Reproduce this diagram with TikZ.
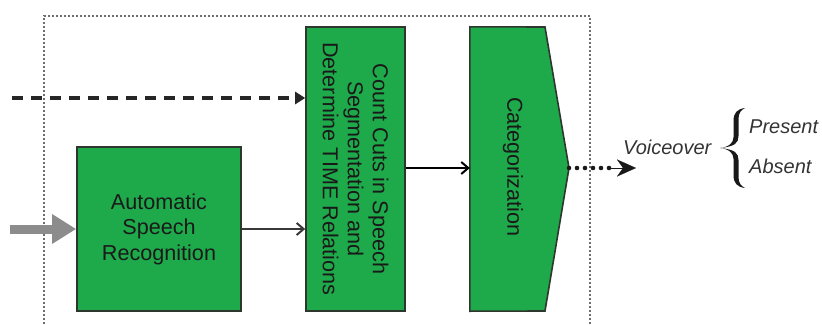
\documentclass[tikz,border=0pt]{standalone}
\usepackage{fontspec}
\setmainfont{Liberation Sans}
\usetikzlibrary{arrows.meta}
\definecolor{boxgreen}{RGB}{30,170,75}
\definecolor{boxedge}{RGB}{45,55,45}
\definecolor{framegray}{RGB}{110,110,110}
\definecolor{feedgray}{RGB}{140,140,140}
\begin{document}
\begin{tikzpicture}[x=1pt,y=-1pt,
  procbox/.style={draw=boxedge,line width=1.6pt,fill=boxgreen,inner sep=0pt,
    align=center,font=\fontsize{21.6}{25.5}\selectfont,text=black!90},
  boxtext/.style={rotate=-90,align=center,font=\fontsize{21.6}{25}\selectfont,text=black!90},
  flow/.style={line width=2.7pt,draw=black!78,-{Straight Barb[length=7pt,width=12pt,line width=2pt]}},
  label/.style={font=\fontsize{20}{24}\selectfont\itshape,text=black!80,inner sep=0pt}]
\useasboundingbox (0,0) rectangle (822,324);
\begin{scope}
\clip (0,0) rectangle (822,324);
% dotted system frame (its lower edge falls outside the page)
\draw[framegray,line width=1.8pt,dash pattern=on 1.8pt off 2.2pt] (44,340) -- (44,16) -- (590,16) -- (590,340);
\end{scope}

% processing blocks
\node[procbox,minimum width=164pt,minimum height=164pt] (asr) at (159,229)
  {Automatic\\Speech\\Recognition};
\node[procbox,minimum width=99pt,minimum height=284pt] (count) at (355.5,169) {};
\node[boxtext] (counttxt) at (count.center)
  {Count Cuts in Speech\\Segmentation and\\Determine TIME Relations};

% categorization block with pointed right side
\node[minimum width=75pt,minimum height=284pt,inner sep=0pt] (cat) at (507.5,169) {};
\coordinate (tip) at (569,168);
\draw[boxedge,line width=1.6pt,fill=boxgreen]
  (cat.north west) -- (545,27) -- (tip) -- (545,311) -- (cat.south west) -- cycle;
\node[boxtext] (cattxt) at (513,167) {Categorization};

% inputs
\coordinate (dashin) at (12,98);
\draw[line width=3.6pt,black!85,dash pattern=on 11pt off 8pt,
  -{Triangle[length=10pt,width=12pt]}] (dashin) -- (count.west |- dashin);
\coordinate (audioin) at (10,229);
\draw[feedgray,line width=9pt,-{Triangle[length=24pt,width=28pt]}] (audioin) -- (asr.west);

% connections
\draw[flow] (asr.east) -- (count.west |- asr.east);
\draw[flow,draw=black] (count.east |- tip) -- (cat.west |- tip);

% output
\node[label,anchor=west] (vo) at (623,147) {Voiceover};
\coordinate (voend) at (636,168);
\draw[line width=4.6pt,black!90,line cap=round,dash pattern=on 0pt off 8pt] (tip) -- (614,168);
\draw[black!90,line width=0.1pt,-{Stealth[length=19pt,width=17pt,inset=6pt]}] (610,168) -- (voend);
% curly brace grouping the two outcomes
\fill[black!90] (745,108) .. controls (737,109) and (733.5,113) .. (733.5,121)
  -- (733.5,137) .. controls (733.5,143) and (729,147) .. (720,148)
  .. controls (729,149) and (733.5,153) .. (733.5,159)
  -- (733.5,175) .. controls (733.5,183) and (737,187) .. (745,188)
  .. controls (741,186) and (738.5,183) .. (738.5,177)
  -- (738.5,160) .. controls (738.5,153) and (735,149.5) .. (720,148)
  .. controls (735,146.5) and (738.5,143) .. (738.5,136)
  -- (738.5,119) .. controls (738.5,113) and (741,110) .. (745,108) -- cycle;
\coordinate (brace) at (728,148);
\node[label,anchor=west] (present) at (749,127) {Present};
\node[label,anchor=west] (absent) at (749,166) {Absent};
\end{tikzpicture}
\end{document}
